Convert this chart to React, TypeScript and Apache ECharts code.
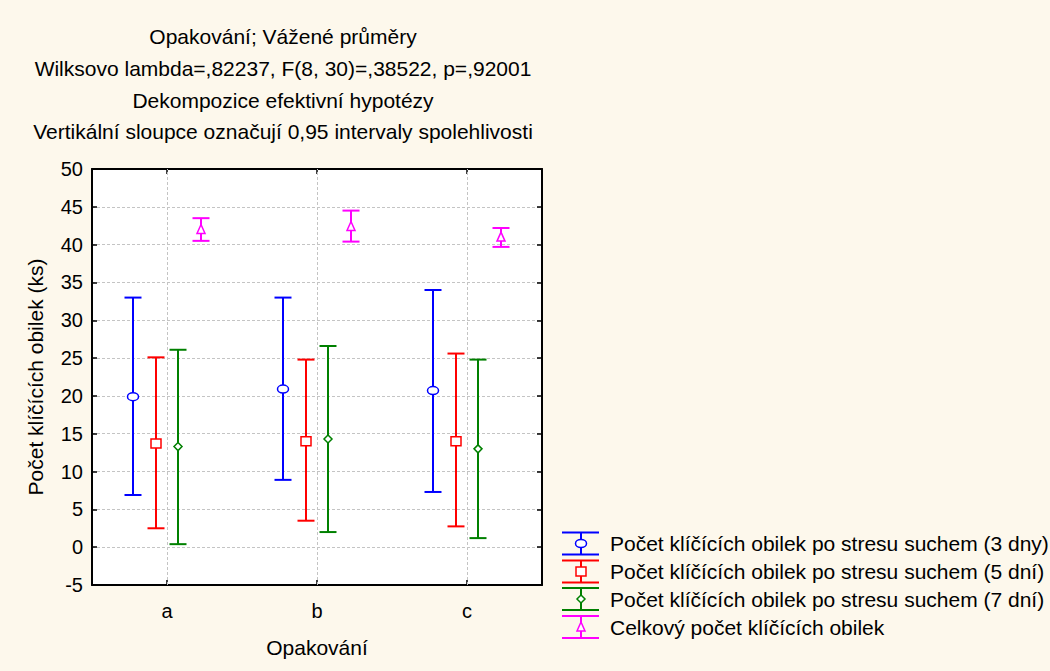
import React, { useEffect, useRef } from 'react';
import * as echarts from 'echarts';

const categories = ['a', 'b', 'c'];
const seriesNames = [
  'Počet klíčících obilek po stresu suchem (3 dny)',
  'Počet klíčících obilek po stresu suchem (5 dní)',
  'Počet klíčících obilek po stresu suchem (7 dní)',
  'Celkový počet klíčících obilek',
];
const titleLines = [
  'Opakování; Vážené průměry',
  'Wilksovo lambda=,82237, F(8, 30)=,38522, p=,92001',
  'Dekompozice efektivní hypotézy',
  'Vertikální sloupce označují 0,95 intervaly spolehlivosti',
];
const xAxisName = 'Opakování';
const yAxisName = 'Počet klíčících obilek (ks)';

// 3 days
const d3Mean = [19.9, 20.9, 20.7];
const d3Low = [6.9, 8.9, 7.3];
const d3High = [33.0, 33.0, 34.0];
// 5 days
const d5Mean = [13.7, 14.0, 14.0];
const d5Low = [2.5, 3.5, 2.75];
const d5High = [25.1, 24.8, 25.6];
// 7 days
const d7Mean = [13.3, 14.3, 13.0];
const d7Low = [0.4, 2.0, 1.2];
const d7High = [26.1, 26.6, 24.8];
// total
const totMean = [42.0, 42.4, 41.0];
const totLow = [40.5, 40.4, 39.7];
const totHigh = [43.5, 44.5, 42.2];

const yMin = -5;
const yMax = 50;
const yInterval = 5;

const colors = ['#0000FF', '#FF0000', '#008000', '#FF00FF'];
const markers = ['circle', 'square', 'diamond', 'triangle'];
const offsets = [-34, -11, 11, 34];
const FONT = 'Liberation Sans, Arial, sans-serif';
const FS = 21;
const FS_TICK = 20;

function markerShape(kind: string, x: number, y: number, color: string) {
  const style = { fill: '#ffffff', stroke: color, lineWidth: 1.5 };
  if (kind === 'circle') return { type: 'ellipse', shape: { cx: x, cy: y, rx: 5.5, ry: 4 }, style };
  if (kind === 'square') return { type: 'rect', shape: { x: x - 5, y: y - 4.5, width: 10, height: 9 }, style };
  if (kind === 'diamond')
    return { type: 'polygon', shape: { points: [[x, y - 4], [x + 4, y], [x, y + 4], [x - 4, y]] }, style };
  return { type: 'polygon', shape: { points: [[x, y - 5], [x + 4, y + 4], [x - 4, y + 4]] }, style };
}

function makeRender(idx: number) {
  return (params: any, api: any) => {
    const c = api.value(0);
    const x = api.coord([c, 0])[0] + offsets[idx];
    const yl = api.coord([c, api.value(1)])[1];
    const ym = api.coord([c, api.value(2)])[1];
    const yh = api.coord([c, api.value(3)])[1];
    const color = colors[idx];
    const ls = { stroke: color, lineWidth: 2 };
    return {
      type: 'group',
      children: [
        { type: 'line', shape: { x1: x, y1: yh, x2: x, y2: yl }, style: ls },
        { type: 'line', shape: { x1: x - 8.5, y1: yh, x2: x + 8.5, y2: yh }, style: ls },
        { type: 'line', shape: { x1: x - 8.5, y1: yl, x2: x + 8.5, y2: yl }, style: ls },
        markerShape(markers[idx], x, ym, color),
      ],
    };
  };
}

function legendGraphic() {
  const out: any[] = [];
  const rowY = [543.5, 571.5, 599, 627];
  for (let i = 0; i < 4; i++) {
    const cy = rowY[i];
    const color = colors[i];
    const ls = { stroke: color, lineWidth: 2 };
    out.push({ type: 'line', shape: { x1: 562, y1: cy - 11, x2: 599, y2: cy - 11 }, style: ls, silent: true });
    out.push({ type: 'line', shape: { x1: 562, y1: cy + 11, x2: 599, y2: cy + 11 }, style: ls, silent: true });
    out.push({ type: 'line', shape: { x1: 581, y1: cy - 11, x2: 581, y2: cy + 11 }, style: ls, silent: true });
    out.push({ ...markerShape(markers[i], 581, cy, color), silent: true });
    out.push({
      type: 'text',
      x: 610,
      y: cy,
      style: {
        text: seriesNames[i],
        fill: '#000',
        font: `${FS}px ${FONT}`,
        textAlign: 'left',
        textVerticalAlign: 'middle',
      },
      silent: true,
    });
  }
  return out;
}

function titleGraphic() {
  const ys = [36, 68, 100, 131];
  return titleLines.map((t, i) => ({
    type: 'text',
    x: 283,
    y: ys[i],
    style: {
      text: t,
      fill: '#000',
      font: `${FS}px ${FONT}`,
      textAlign: 'center',
      textVerticalAlign: 'middle',
    },
    silent: true,
  }));
}

export default function App() {
  const ref = useRef<HTMLDivElement>(null);
  useEffect(() => {
    if (!ref.current) return;
    const chart = echarts.init(ref.current, null, { renderer: 'svg' });
    const groups = [
      [d3Low, d3Mean, d3High],
      [d5Low, d5Mean, d5High],
      [d7Low, d7Mean, d7High],
      [totLow, totMean, totHigh],
    ];
    const axisLineStyle = { color: '#000', width: 2 };
    const tickCommon = { show: true, inside: true, length: 5, lineStyle: { color: '#000', width: 1.5 } };
    const series: any[] = groups.map((g, i) => ({
      type: 'custom',
      name: seriesNames[i],
      renderItem: makeRender(i),
      encode: { x: 0, y: [1, 2, 3] },
      data: categories.map((_, k) => [k, g[0][k], g[1][k], g[2][k]]),
      z: 10,
      silent: true,
    }));
    series[0].markLine = {
      silent: true,
      symbol: 'none',
      label: { show: false },
      lineStyle: { color: '#C4C4C4', type: [3, 2], width: 1 },
      data: categories.map((c) => ({ xAxis: c })),
      z: 1,
    };
    chart.setOption({
      animation: false,
      backgroundColor: '#FDF8EC',
      textStyle: { fontFamily: FONT },
      grid: {
        left: 92,
        right: 508,
        top: 169,
        bottom: 86,
        show: true,
        backgroundColor: '#FFFFFF',
        borderWidth: 0,
      },
      xAxis: [
        {
          type: 'category',
          data: categories,
          position: 'bottom',
          boundaryGap: true,
          axisLine: { onZero: false, lineStyle: axisLineStyle },
          axisTick: { ...tickCommon, alignWithLabel: true },
          axisLabel: { fontSize: FS_TICK, color: '#000', margin: 16, fontFamily: FONT },
          splitLine: { show: false },
          name: xAxisName,
          nameLocation: 'middle',
          nameGap: 52,
          nameTextStyle: { fontSize: FS, color: '#000', fontFamily: FONT },
        },
        {
          type: 'category',
          data: categories,
          position: 'top',
          boundaryGap: true,
          axisLine: { onZero: false, lineStyle: axisLineStyle },
          axisTick: { ...tickCommon, alignWithLabel: true },
          axisLabel: { show: false },
          splitLine: { show: false },
        },
      ],
      yAxis: [
        {
          type: 'value',
          min: yMin,
          max: yMax,
          interval: yInterval,
          position: 'left',
          axisLine: { show: true, onZero: false, lineStyle: axisLineStyle },
          axisTick: tickCommon,
          axisLabel: { fontSize: FS_TICK, color: '#000', margin: 9, fontFamily: FONT },
          splitLine: { show: true, lineStyle: { color: '#C4C4C4', type: [3, 2], width: 1 } },
          name: yAxisName,
          nameLocation: 'middle',
          nameGap: 46,
          nameTextStyle: { fontSize: FS, color: '#000', fontFamily: FONT },
        },
        {
          type: 'value',
          min: yMin,
          max: yMax,
          interval: yInterval,
          position: 'right',
          axisLine: { show: true, onZero: false, lineStyle: axisLineStyle },
          axisTick: tickCommon,
          axisLabel: { show: false },
          splitLine: { show: false },
        },
      ],
      series,
      graphic: [...titleGraphic(), ...legendGraphic()],
    });
    return () => chart.dispose();
  }, []);
  return <div ref={ref} style={{ position: 'fixed', left: 0, top: 0, width: 1050, height: 671 }} />;
}
